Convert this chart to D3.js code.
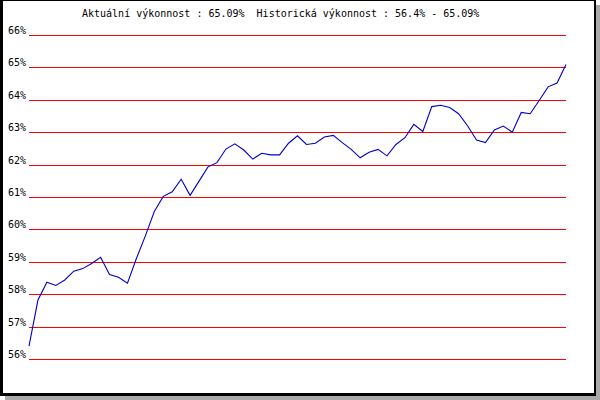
<!DOCTYPE html>
<html>
<head>
<meta charset="utf-8">
<script src="https://cdn.jsdelivr.net/npm/d3@7"></script>
<style>
  html, body { margin: 0; padding: 0; background: #fff; }
  svg { display: block; }
  text { font-family: "DejaVu Sans Mono", "Liberation Mono", monospace; font-size: 10px; fill: #000; }
</style>
</head>
<body>
<svg id="chart" width="600" height="400"></svg>
<script>
const titleText = "Aktuální výkonnost : 65.09%  Historická výkonnost : 56.4% - 65.09%";
const tickValues = [56, 57, 58, 59, 60, 61, 62, 63, 64, 65, 66];
const performance = [
  56.40, 57.82, 58.37, 58.27, 58.44, 58.71, 58.79, 58.95, 59.14, 58.61,
  58.52, 58.34, 59.10, 59.80, 60.55, 61.02, 61.16, 61.55, 61.05, 61.49,
  61.93, 62.06, 62.48, 62.64, 62.45, 62.17, 62.35, 62.30, 62.30, 62.66,
  62.89, 62.62, 62.66, 62.85, 62.90, 62.68, 62.47, 62.21, 62.38, 62.47,
  62.27, 62.62, 62.83, 63.24, 63.02, 63.79, 63.83, 63.76, 63.57, 63.20,
  62.76, 62.68, 63.07, 63.19, 63.00, 63.61, 63.57, 63.98, 64.40, 64.52,
  65.09
];

const svg = d3.select("#chart");

// frame with drop shadow
svg.append("rect").attr("x", 5).attr("y", 5).attr("width", 595).attr("height", 395).attr("fill", "#a9a9a9");
svg.append("rect").attr("x", 0).attr("y", 0).attr("width", 596).attr("height", 396).attr("fill", "#000");
svg.append("rect").attr("x", 3).attr("y", 1).attr("width", 591).attr("height", 392).attr("fill", "#fff");

const plotLeft = 29, plotRight = 566, plotTop = 35, plotBottom = 359;

const x = d3.scaleLinear().domain([0, performance.length - 1]).range([plotLeft, plotRight]);
const y = d3.scaleLinear().domain([56, 66]).range([plotBottom, plotTop]);

const yAxis = d3.axisLeft(y)
  .tickValues(tickValues)
  .tickSizeInner(-(plotRight - plotLeft))
  .tickSizeOuter(0)
  .tickPadding(3)
  .tickFormat(d => d + "%");

const gAxis = svg.append("g")
  .attr("transform", `translate(${plotLeft},0)`)
  .call(yAxis);
gAxis.select(".domain").remove();
gAxis.selectAll(".tick line")
  .attr("stroke", "#ff0000")
  .attr("stroke-width", 1)
  .attr("shape-rendering", "crispEdges");
gAxis.selectAll(".tick text")
  .attr("dy", "-1.5")
  .style("font-family", "'DejaVu Sans Mono', monospace")
  .style("font-size", "10px")
  .attr("fill", "#000");

const line = d3.line()
  .x((d, i) => x(i))
  .y(d => y(d));

svg.append("path")
  .datum(performance)
  .attr("fill", "none")
  .attr("stroke", "#0000cc")
  .attr("stroke-width", 1.1)
  .attr("d", line);

svg.append("text")
  .attr("x", 82)
  .attr("y", 17)
  .attr("xml:space", "preserve")
  .style("white-space", "pre")
  .text(titleText);
</script>
</body>
</html>
